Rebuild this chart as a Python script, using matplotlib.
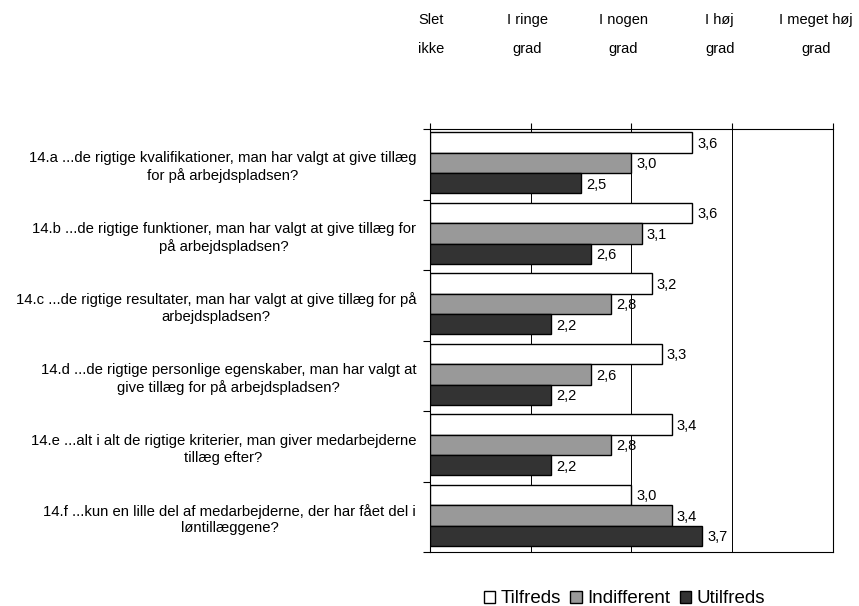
import matplotlib.pyplot as plt
import matplotlib.transforms as mtransforms
import numpy as np

plt.rcParams['font.family'] = ['Liberation Sans', 'DejaVu Sans']

# data
spoergsmaal = [
    "14.a ...de rigtige kvalifikationer, man har valgt at give tillæg\nfor på arbejdspladsen?",
    "14.b ...de rigtige funktioner, man har valgt at give tillæg for\npå arbejdspladsen?",
    "14.c ...de rigtige resultater, man har valgt at give tillæg for på\narbejdspladsen?",
    "14.d ...de rigtige personlige egenskaber, man har valgt at\ngive tillæg for på arbejdspladsen?",
    "14.e ...alt i alt de rigtige kriterier, man giver medarbejderne\ntillæg efter?",
    "14.f ...kun en lille del af medarbejderne, der har fået del i\nløntillæggene?",
]
tilfreds = [3.6, 3.6, 3.2, 3.3, 3.4, 3.0]
indifferent = [3.0, 3.1, 2.8, 2.6, 2.8, 3.4]
utilfreds = [2.5, 2.6, 2.2, 2.2, 2.2, 3.7]
skala = ["Slet\nikke", "I ringe\ngrad", "I nogen\ngrad", "I høj\ngrad", "I meget høj\ngrad"]

serier = [("Tilfreds", tilfreds, "white"),
          ("Indifferent", indifferent, "#999999"),
          ("Utilfreds", utilfreds, "#333333")]

fig = plt.figure(figsize=(8.59, 6.06), dpi=100)
ax = fig.add_axes([0.5006, 0.0891, 0.4691, 0.6980])

y = np.arange(len(spoergsmaal))
h = 0.289
for i, (navn, vals, farve) in enumerate(serier):
    pos = y - 0.02 + (i - 1) * h
    ax.barh(pos, np.array(vals) - 1, left=1, height=h, color=farve,
            edgecolor="black", linewidth=1, label=navn, zorder=3)
    for p, v in zip(pos, vals):
        ax.text(v + 0.05, p + 0.02, f"{v:.1f}".replace(".", ","), va="center",
                ha="left", fontsize=10.5, zorder=4)

ax.set_xlim(1, 5)
ax.set_ylim(len(spoergsmaal) - 0.5, -0.5)

# skala ticks on top, labels as header text (they sit a bit tighter than the ticks)
ax.xaxis.set_ticks_position("top")
ax.set_xticks([1, 2, 3, 4, 5])
ax.set_xticklabels([])
ax.tick_params(axis="x", direction="out", length=4, width=0.8)
ax.grid(axis="x", color="black", linewidth=0.7, zorder=1)

trans = mtransforms.blended_transform_factory(ax.transData, fig.transFigure)
for xp, lab in zip(np.linspace(1.01, 4.83, len(skala)), skala):
    ax.text(xp, 0.943, lab, transform=trans, ha="center", va="center",
            fontsize=10.5, linespacing=2.3, multialignment="center")

ax.set_yticks(y)
ax.set_yticklabels(spoergsmaal, fontsize=10.7, multialignment="center",
                   linespacing=1.25)
ax.set_yticks(np.arange(len(spoergsmaal) + 1) - 0.5, minor=True)
ax.tick_params(axis="y", which="major", length=0, pad=10)
ax.tick_params(axis="y", which="minor", length=5, width=0.8)

for s in ax.spines.values():
    s.set_linewidth(0.8)

leg = fig.legend(loc="center", bbox_to_anchor=(0.727, 0.012), ncol=3,
                 frameon=False, fontsize=13.5, handlelength=0.6, handleheight=0.6,
                 handletextpad=0.3, columnspacing=0.5)

fig.savefig("out.png", dpi=100)
